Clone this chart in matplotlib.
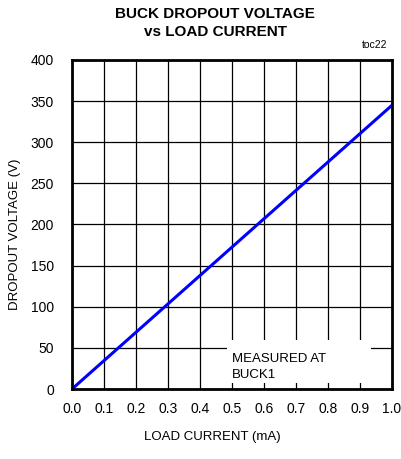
import matplotlib
matplotlib.use('Agg')
import matplotlib.pyplot as plt
from matplotlib.patches import Rectangle

# load current (mA) and buck dropout voltage (mV)
load_current = [0.0, 0.1, 0.2, 0.3, 0.4, 0.5, 0.6, 0.7, 0.8, 0.9, 1.0]
dropout = [0, 34.5, 69, 103.5, 138, 172.5, 207, 241.5, 276, 310.5, 345]

x_ticks = [0.0, 0.1, 0.2, 0.3, 0.4, 0.5, 0.6, 0.7, 0.8, 0.9, 1.0]
y_ticks = [0, 50, 100, 150, 200, 250, 300, 350, 400]

plt.rcParams['font.family'] = ['Liberation Sans', 'DejaVu Sans']

fig = plt.figure(figsize=(4.01, 4.59), dpi=100)
ax = fig.add_axes([0.1796, 0.1525, 0.798, 0.7168])

ax.plot(load_current, dropout, color='#0000ff', lw=2.2, zorder=3)

ax.set_xlim(0, 1.0)
ax.set_ylim(0, 400)
ax.set_xticks(x_ticks)
ax.set_xticklabels(['%.1f' % v for v in x_ticks])
ax.set_yticks(y_ticks)
ax.tick_params(axis='x', length=0, labelsize=10, pad=9)
ax.tick_params(axis='y', length=0, labelsize=10, pad=13)
ax.grid(True, color='black', lw=0.9)
for s in ax.spines.values():
    s.set_linewidth(2)
    s.set_zorder(5)

fig.text(0.529, 0.048, 'LOAD CURRENT (mA)', ha='center', va='center', fontsize=9.5)
fig.text(0.037, 0.49, 'DROPOUT VOLTAGE (V)', ha='center', va='center', rotation=90,
         fontsize=9.5)

fig.text(0.537, 0.950, 'BUCK DROPOUT VOLTAGE\nvs LOAD CURRENT', ha='center', va='center',
         fontsize=11, fontweight='bold', linespacing=1.4)
fig.text(0.965, 0.902, 'toc22', ha='right', va='center', fontsize=7.5)

# white patch behind the note so the grid breaks around it
ax.add_patch(Rectangle((0.484, 0.018), 0.45, 0.131, transform=ax.transAxes,
                       fc='white', ec='none', zorder=2.5))
ax.text(0.5, 0.067, 'MEASURED AT\nBUCK1', transform=ax.transAxes, fontsize=9.5,
        va='center', ha='left', zorder=4, linespacing=1.5)

fig.savefig('out.png', dpi=100)
